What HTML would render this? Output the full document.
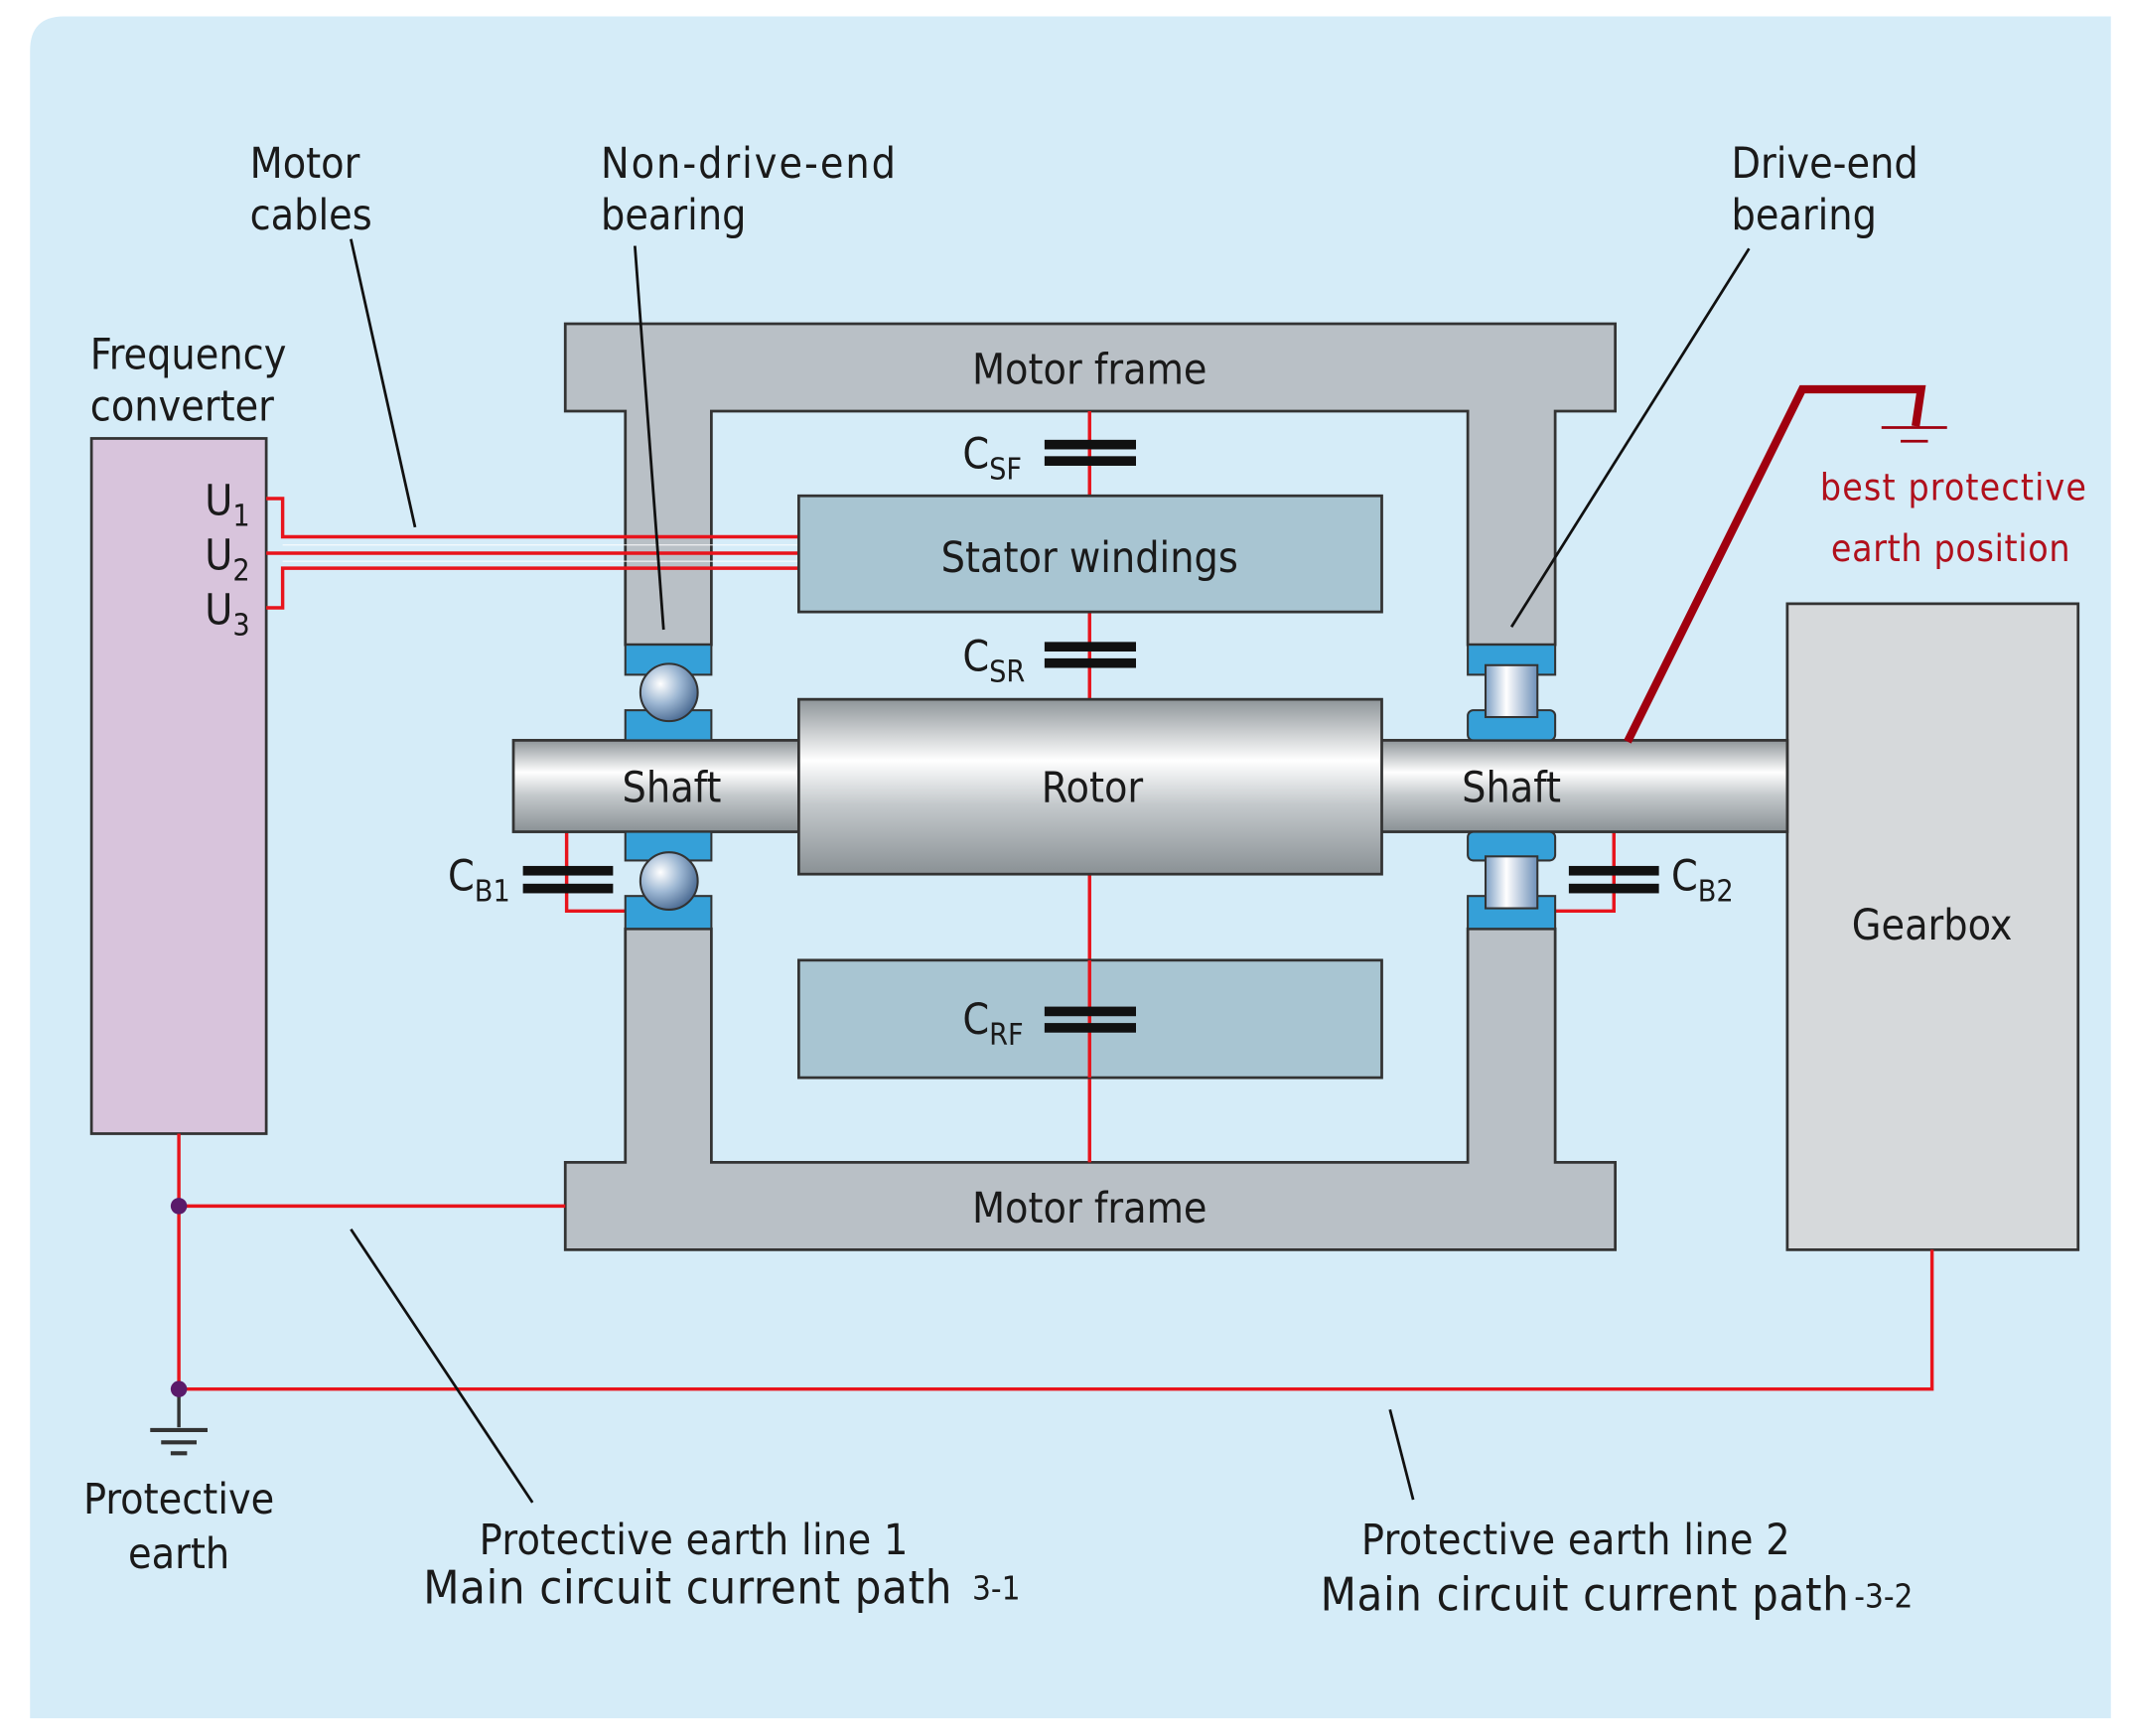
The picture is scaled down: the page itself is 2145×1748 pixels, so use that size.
<!DOCTYPE html>
<html><head><meta charset="utf-8"><style>
html,body{margin:0;padding:0;background:#fff;}
svg{display:block;}
text{font-family:"DejaVu Sans Condensed","Liberation Sans Narrow","Liberation Sans",sans-serif;fill:#1a1a1a;}
</style></head><body>
<svg width="2145" height="1748" viewBox="0 0 1560 1271" preserveAspectRatio="none" xmlns="http://www.w3.org/2000/svg">
<defs>
<linearGradient id="cyl" x1="0" y1="0" x2="0" y2="1">
<stop offset="0" stop-color="#8e9599"/><stop offset="0.35" stop-color="#ffffff"/><stop offset="0.6" stop-color="#c4c9cc"/><stop offset="1" stop-color="#8a9195"/>
</linearGradient>
<radialGradient id="ball" cx="0.35" cy="0.35" r="0.7">
<stop offset="0" stop-color="#ffffff"/><stop offset="0.5" stop-color="#9db7d3"/><stop offset="1" stop-color="#4a6a92"/>
</radialGradient>
<linearGradient id="roll" x1="0" y1="0" x2="1" y2="0">
<stop offset="0" stop-color="#7d9fc4"/><stop offset="0.4" stop-color="#ffffff"/><stop offset="1" stop-color="#6d8fb8"/>
</linearGradient>
</defs>
<path d="M22,37 Q22,12 47,12 L1546,12 L1546,1258 L22,1258 Z" fill="#d5ecf8"/>

<rect x="67" y="321" width="128" height="509" fill="#d8c4dc" stroke="#333" stroke-width="2"/>

<path d="M414,237 L1183,237 L1183,301 L1139,301 L1139,472 L1075,472 L1075,301 L521,301 L521,472 L458,472 L458,301 L414,301 Z" fill="#b9c0c6" stroke="#333" stroke-width="2"/>
<path d="M414,915 L1183,915 L1183,851 L1139,851 L1139,680 L1075,680 L1075,851 L521,851 L521,680 L458,680 L458,851 L414,851 Z" fill="#b9c0c6" stroke="#333" stroke-width="2"/>

<rect x="1309" y="442" width="213" height="473" fill="#d6d9db" stroke="#333" stroke-width="2"/>

<g stroke="#e8141c" stroke-width="2.5" fill="none">
<line x1="798" y1="301" x2="798" y2="363"/>
<line x1="798" y1="448" x2="798" y2="512"/>
<line x1="798" y1="640" x2="798" y2="851"/>
<path d="M195,365 L207,365 L207,393 L585,393"/>
<path d="M195,405 L585,405"/>
<path d="M195,445 L207,445 L207,416 L585,416"/>
<path d="M415,609 L415,667 L458,667"/>
<path d="M1182,609 L1182,667 L1139,667"/>
<path d="M131,830 L131,1017"/>
<path d="M131,883 L414,883"/>
<path d="M131,1017 L1415,1017 L1415,915"/>
<path d="M131,1017 L131,1045" stroke="#333"/>
</g>
<g stroke="#ffffff" stroke-width="1" opacity="0.7">
<line x1="207" y1="399" x2="585" y2="399"/><line x1="207" y1="411" x2="585" y2="411"/>
</g>

<rect x="585" y="363" width="427" height="85" fill="#a8c5d2" stroke="#333" stroke-width="2"/>
<rect x="585" y="703" width="427" height="86" fill="#a8c5d2" stroke="#333" stroke-width="2"/>
<line x1="798" y1="703" x2="798" y2="789" stroke="#e8141c" stroke-width="2.5"/>

<rect x="376" y="542" width="933" height="67" fill="url(#cyl)" stroke="#333" stroke-width="2"/>
<rect x="585" y="512" width="427" height="128" fill="url(#cyl)" stroke="#333" stroke-width="2"/>

<g fill="#35a0d8" stroke="#333" stroke-width="1.5">
<rect x="458" y="472" width="63" height="22"/><rect x="458" y="520" width="63" height="22"/>
<rect x="458" y="609" width="63" height="21"/><rect x="458" y="656" width="63" height="24"/>
<rect x="1075" y="472" width="64" height="22"/><rect x="1075" y="520" width="64" height="22" rx="4"/>
<rect x="1075" y="609" width="64" height="21" rx="4"/><rect x="1075" y="656" width="64" height="24"/>
</g>
<circle cx="490" cy="507" r="21" fill="url(#ball)" stroke="#333" stroke-width="1.5"/>
<circle cx="490" cy="645" r="21" fill="url(#ball)" stroke="#333" stroke-width="1.5"/>
<rect x="1088" y="487" width="38" height="38" fill="url(#roll)" stroke="#333" stroke-width="1.5"/>
<rect x="1088" y="627" width="38" height="38" fill="url(#roll)" stroke="#333" stroke-width="1.5"/>

<g fill="#111">
<rect x="765" y="322" width="67" height="7"/><rect x="765" y="334" width="67" height="7"/>
<rect x="765" y="470" width="67" height="7"/><rect x="765" y="482" width="67" height="7"/>
<rect x="765" y="737" width="67" height="7"/><rect x="765" y="749" width="67" height="7"/>
<rect x="383" y="634" width="66" height="7"/><rect x="383" y="647" width="66" height="7"/>
<rect x="1149" y="634" width="66" height="7"/><rect x="1149" y="647" width="66" height="7"/>
</g>

<g stroke="#333" stroke-width="3">
<line x1="110" y1="1047" x2="152" y2="1047"/><line x1="118" y1="1056" x2="144" y2="1056"/><line x1="125" y1="1064" x2="137" y2="1064"/>
</g>
<circle cx="131" cy="883" r="6" fill="#5a1a6a"/>
<circle cx="131" cy="1017" r="6" fill="#5a1a6a"/>

<path d="M1192,543 L1320,285 L1407,285 L1403,312" stroke="#a0000f" stroke-width="6" fill="none"/>
<line x1="1378" y1="313" x2="1426" y2="313" stroke="#a0000f" stroke-width="2"/>
<line x1="1392" y1="323" x2="1412" y2="323" stroke="#a0000f" stroke-width="2"/>

<g stroke="#111" stroke-width="2">
<line x1="257" y1="175" x2="304" y2="386"/>
<line x1="465" y1="180" x2="486" y2="461"/>
<line x1="1281" y1="182" x2="1107" y2="459"/>
<line x1="257" y1="900" x2="390" y2="1100"/>
<line x1="1018" y1="1032" x2="1035" y2="1098"/>
</g>

<g font-size="31">
<text x="183" y="130">Motor</text><text x="183" y="168">cables</text>
<text x="440" y="130" textLength="216">Non-drive-end</text><text x="440" y="168">bearing</text>
<text x="1268" y="130">Drive-end</text><text x="1268" y="168">bearing</text>
<text x="66" y="270">Frequency</text><text x="66" y="308">converter</text>
<text x="798" y="281" text-anchor="middle">Motor frame</text>
<text x="798" y="895" text-anchor="middle">Motor frame</text>
<text x="798" y="419" text-anchor="middle">Stator windings</text>
<text x="800" y="587" text-anchor="middle">Rotor</text>
<text x="492" y="587" text-anchor="middle">Shaft</text>
<text x="1107" y="587" text-anchor="middle">Shaft</text>
<text x="1415" y="688" text-anchor="middle">Gearbox</text>
<text x="131" y="1108" text-anchor="middle">Protective</text><text x="131" y="1148" text-anchor="middle">earth</text>
<text x="351" y="1138" textLength="314">Protective earth line 1</text>
<text x="997" y="1138" textLength="314">Protective earth line 2</text>
<text x="705" y="343">C<tspan font-size="22" dy="8">SF</tspan></text>
<text x="705" y="491">C<tspan font-size="22" dy="8">SR</tspan></text>
<text x="705" y="757">C<tspan font-size="22" dy="8">RF</tspan></text>
<text x="328" y="652">C<tspan font-size="22" dy="8">B1</tspan></text>
<text x="1224" y="652">C<tspan font-size="22" dy="8">B2</tspan></text>
<text x="150" y="377">U<tspan font-size="22" dy="8">1</tspan></text>
<text x="150" y="417">U<tspan font-size="22" dy="8">2</tspan></text>
<text x="150" y="457">U<tspan font-size="22" dy="8">3</tspan></text>
</g>
<g font-size="34">
<text x="310" y="1174" textLength="387">Main circuit current path</text>
<text x="967" y="1179" textLength="387">Main circuit current path</text>
</g>
<text x="712" y="1171" font-size="24">3-1</text>
<text x="1358" y="1177" font-size="24">-3-2</text>
<g font-size="27">
<text x="1333" y="366" textLength="195" style="fill:#b0101c">best  protective</text>
<text x="1341" y="411" textLength="175" style="fill:#b0101c">earth position</text>
</g>
</svg>
</body></html>
